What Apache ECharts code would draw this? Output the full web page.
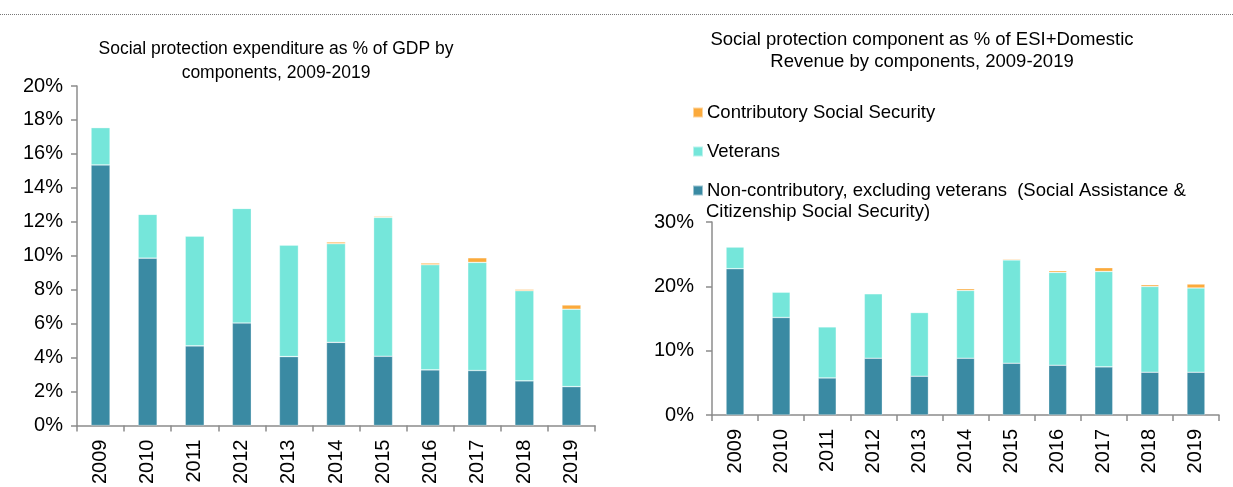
<!DOCTYPE html>
<html>
<head>
<meta charset="utf-8">
<script src="https://cdn.jsdelivr.net/npm/echarts@6/dist/echarts.min.js"></script>
<style>
html,body{margin:0;padding:0;background:#fff;}
#c{width:1233px;height:487px;}
</style>
</head>
<body>
<div id="c"></div>
<script>
const years = ['2009','2010','2011','2012','2013','2014','2015','2016','2017','2018','2019'];
const seriesNames = ['Non-contributory, excluding veterans  (Social Assistance &', 'Veterans', 'Contributory Social Security'];
const legendLine2 = 'Citizenship Social Security)';
const leftTitle = 'Social protection expenditure as % of GDP by\ncomponents, 2009-2019';
const rightTitle = 'Social protection component as % of ESI+Domestic\nRevenue by components, 2009-2019';

// % of GDP
const gdpNonContrib = [15.35, 9.86, 4.69, 6.04, 4.06, 4.90, 4.08, 3.28, 3.24, 2.63, 2.29];
const gdpVeterans   = [2.20, 2.58, 6.47, 6.75, 6.57, 5.81, 8.18, 6.19, 6.37, 5.31, 4.56];
const gdpContrib    = [0, 0, 0, 0, 0, 0.10, 0.06, 0.10, 0.27, 0.08, 0.25];

// % of ESI + Domestic revenue
const revNonContrib = [22.74, 15.16, 5.76, 8.83, 6.03, 8.83, 8.05, 7.74, 7.48, 6.65, 6.65];
const revVeterans   = [3.38, 3.95, 7.95, 10.02, 9.90, 10.53, 16.05, 14.43, 14.84, 13.33, 13.09];
const revContrib    = [0, 0, 0, 0, 0, 0.27, 0.15, 0.26, 0.58, 0.27, 0.62];

const leftTicks = {min: 0, max: 20, interval: 2};
const rightTicks = {min: 0, max: 30, interval: 10};

const colors = ['#3A8AA3', '#75E6DA', '#FBAA3C'];
const font = 'Liberation Sans, Arial, sans-serif';
const axisColor = '#8c8c8c';

function xAx(gi){
  return {
    type:'category', gridIndex: gi, data: years,
    axisLine:{lineStyle:{color:axisColor, width:1.5}},
    axisTick:{show:true, length:6, lineStyle:{color:axisColor, width:1.5}},
    axisLabel:{rotate:90, margin:14, color:'#000', fontSize:20, fontFamily:font}
  };
}
function yAx(gi, t, m){
  return {
    type:'value', gridIndex: gi, min:t.min, max:t.max, interval:t.interval,
    axisLine:{show:true, lineStyle:{color:axisColor, width:1.5}},
    axisTick:{show:true, length:6, lineStyle:{color:axisColor, width:1.5}},
    splitLine:{show:false},
    axisLabel:{formatter:'{value}%', margin:m, color:'#000', fontSize:20, fontFamily:font}
  };
}
function bars(gi, data, idx, bw){
  return {
    name: seriesNames[idx], type:'bar', stack:'s'+gi, xAxisIndex:gi, yAxisIndex:gi,
    data: data, barWidth: bw,
    itemStyle:{color: colors[idx], borderColor:'rgba(255,255,255,0.5)', borderWidth:0.6},
    emphasis:{disabled:true}
  };
}

const chart = echarts.init(document.getElementById('c'), null, {renderer:'canvas'});
chart.setOption({
  animation:false,
  title:[
    {text:leftTitle, left:271, top:32, textAlign:'center',
     textStyle:{fontSize:17.5, fontWeight:'normal', color:'#000', fontFamily:font, lineHeight:24}},
    {text:rightTitle, left:917, top:24, textAlign:'center',
     textStyle:{fontSize:18.5, fontWeight:'normal', color:'#000', fontFamily:font, lineHeight:22}}
  ],
  legend:{
    orient:'vertical', left:687, top:98,
    data:[seriesNames[2], seriesNames[1], seriesNames[0]],
    itemWidth:10, itemHeight:10, itemGap:20, icon:'rect',
    textStyle:{fontSize:18.5, color:'#000', fontFamily:font, padding:[0,0,0,-1]},
    selectedMode:false
  },
  graphic:[
    {type:'line', shape:{x1:0, y1:14.5, x2:1233, y2:14.5},
     style:{stroke:'#777', lineWidth:1, lineDash:[1,1]}},
    {type:'text', left:706, top:202,
     style:{text:legendLine2, fill:'#000', font:'18.5px ' + font}}
  ],
  grid:[
    {left:77, top:86, width:518, height:340},
    {left:712, top:222, width:507, height:193}
  ],
  xAxis:[xAx(0), xAx(1)],
  yAxis:[yAx(0, leftTicks, 14), yAx(1, rightTicks, 18)],
  series:[
    bars(0, gdpNonContrib, 0, 19),
    bars(0, gdpVeterans, 1, 19),
    bars(0, gdpContrib, 2, 19),
    bars(1, revNonContrib, 0, 18),
    bars(1, revVeterans, 1, 18),
    bars(1, revContrib, 2, 18)
  ]
});
</script>
</body>
</html>
